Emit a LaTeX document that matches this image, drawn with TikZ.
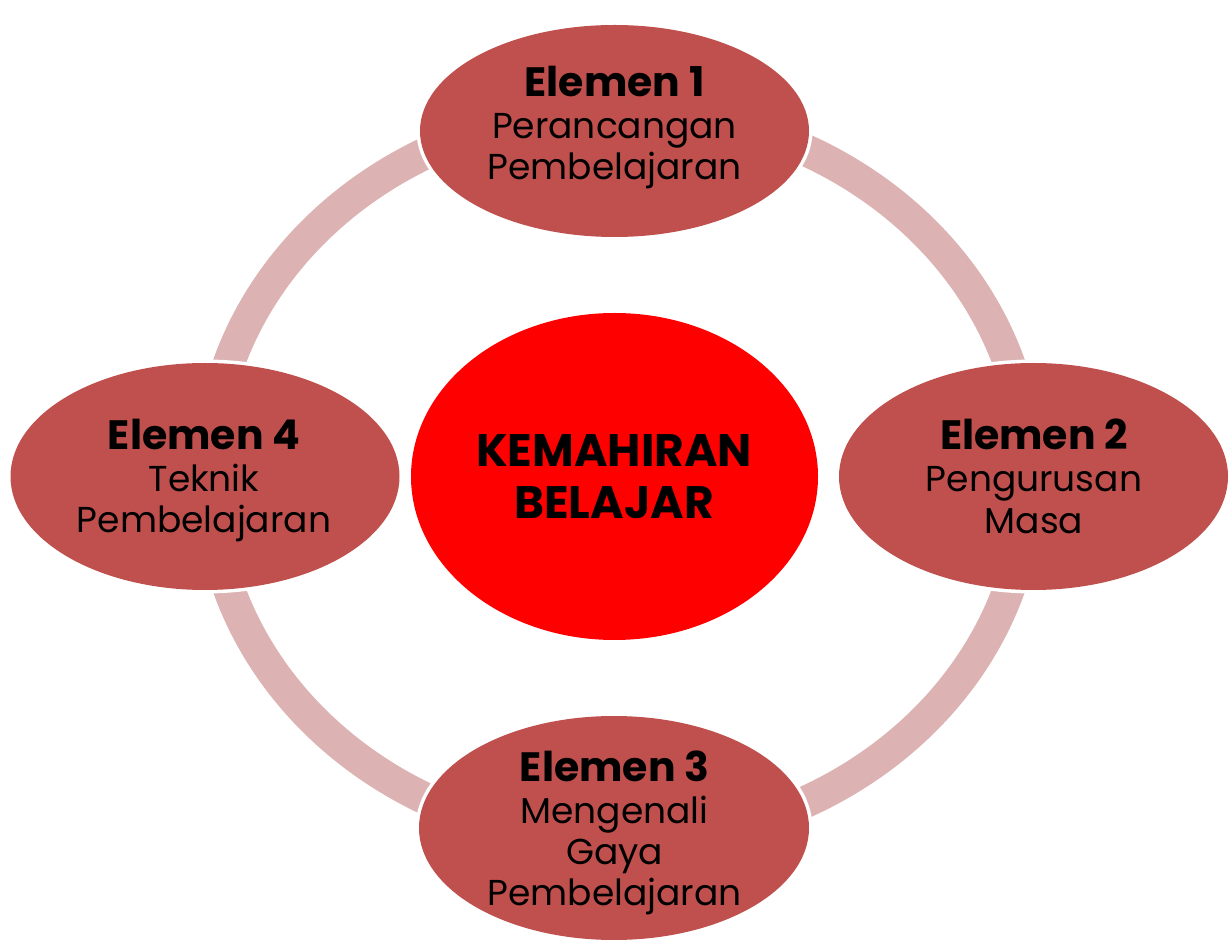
\documentclass[tikz,border=0pt]{standalone}
\usepackage{fontspec}
\setmainfont{Poppins}
\usetikzlibrary{shapes.geometric}
\definecolor{elemfill}{HTML}{C0504D}
\definecolor{ringcol}{HTML}{DCB2B2}
\definecolor{corefill}{HTML}{FF0000}
\tikzset{
  elem/.style={ellipse, fill=elemfill, inner sep=0pt, preaction={draw=white, line width=7pt}},
  core/.style={ellipse, fill=corefill, inner sep=0pt, preaction={draw=white, line width=4pt}},
  ringarc/.style={draw=ringcol, line width=32pt},
  headtxt/.style={anchor=base, inner sep=0pt, font=\fontsize{41}{44}\selectfont\bfseries},
  bodytxt/.style={anchor=base, inner sep=0pt, font=\fontsize{36}{40}\selectfont},
  coretxt/.style={anchor=base, inner sep=0pt, font=\fontsize{45.5}{50}\selectfont\bfseries},
}
\begin{document}
\begin{tikzpicture}[x=1pt, y=1pt]
\useasboundingbox (0,0) rectangle (1232,943);
\coordinate (rc) at (619,467);
% connecting ring arcs
\draw[ringarc] (rc) ++(80:410pt and 366pt) arc[start angle=80, end angle=10, x radius=410pt, y radius=366pt];
\draw[ringarc] (rc) ++(-10:410pt and 366pt) arc[start angle=-10, end angle=-80, x radius=410pt, y radius=366pt];
\draw[ringarc] (rc) ++(-100:410pt and 366pt) arc[start angle=-100, end angle=-170, x radius=410pt, y radius=366pt];
\draw[ringarc] (rc) ++(170:410pt and 366pt) arc[start angle=170, end angle=100, x radius=410pt, y radius=366pt];
% element ellipses
\node[elem, minimum width=389pt, minimum height=212pt] (e1) at (614.5,812) {};
\node[elem, minimum width=389pt, minimum height=227pt] (e2) at (1033.5,466.5) {};
\node[elem, minimum width=390pt, minimum height=224pt] (e3) at (614,115) {};
\node[elem, minimum width=389pt, minimum height=227pt] (e4) at (205,466.5) {};
\node[core, minimum width=407pt, minimum height=327pt] (c) at (614.5,466.5) {};
% texts
\node[headtxt] (e1h) at (614.5,846) {Elemen 1};
\node[bodytxt] (e1a) at (614.5,804) {Perancangan};
\node[bodytxt] (e1b) at (614.5,763) {Pembelajaran};
\node[headtxt] (e2h) at (1034,493) {Elemen 2};
\node[bodytxt] (e2a) at (1034,451) {Pengurusan};
\node[bodytxt] (e2b) at (1034,409) {Masa};
\node[headtxt] (e3h) at (614.5,161) {Elemen 3};
\node[bodytxt] (e3a) at (614.5,119) {Mengenali};
\node[bodytxt] (e3b) at (614.5,78) {Gaya};
\node[bodytxt] (e3c) at (614.5,38) {Pembelajaran};
\node[headtxt] (e4h) at (204,493) {Elemen 4};
\node[bodytxt] (e4a) at (204,451) {Teknik};
\node[bodytxt] (e4b) at (204,410) {Pembelajaran};
\node[coretxt] (ct1) at (614,476) {KEMAHIRAN};
\node[coretxt] (ct2) at (614,424) {BELAJAR};
\end{tikzpicture}
\end{document}
